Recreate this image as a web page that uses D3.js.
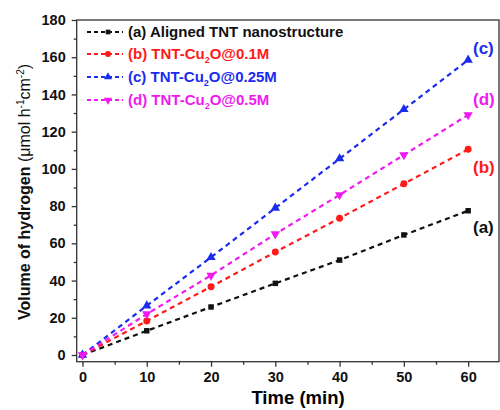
<!DOCTYPE html>
<html>
<head>
<meta charset="utf-8">
<script src="https://cdn.jsdelivr.net/npm/d3@7"></script>
<style>
  body { margin: 0; background: #fff; }
  svg { font-family: "Liberation Sans", Arial, sans-serif; }
</style>
</head>
<body>
<svg id="chart" width="500" height="410"></svg>
<script>
// data
const times = [0, 10, 20, 30, 40, 50, 60];
const seriesA = [0, 13, 25.8, 38.5, 51, 64.5, 77.5];
const seriesB = [0, 18.3, 36.7, 55.3, 73.5, 92, 110.5];
const seriesC = [0, 26.5, 52.5, 79, 105.5, 132, 158.5];
const seriesD = [0, 22, 42.8, 65, 86, 107.5, 129];
const seriesNames = ["(a) Aligned TNT nanostructure", "(b) TNT-Cu|2|O@0.1M", "(c) TNT-Cu|2|O@0.25M", "(d) TNT-Cu|2|O@0.5M"];
const seriesTags = ["(a)", "(b)", "(c)", "(d)"];
const xTicks = [0, 10, 20, 30, 40, 50, 60];
const yTicks = [0, 20, 40, 60, 80, 100, 120, 140, 160, 180];

const colors = ["#111111", "#ff1a1a", "#1a2cf0", "#f01af0"];
const symbols = [d3.symbolSquare, d3.symbolCircle, d3.symbolTriangle, d3.symbolTriangle];
const allSeries = [seriesA, seriesB, seriesC, seriesD];

const svg = d3.select("#chart");
const plotLeft = 76.7, plotRight = 499, plotTop = 20, plotBottom = 361.7;

const x = d3.scaleLinear().domain([-0.9, 64.8]).range([plotLeft, plotRight]);
const y = d3.scaleLinear().domain([-3.6, 180]).range([plotBottom, plotTop]);

// frame
svg.append("rect")
  .attr("x", plotLeft).attr("y", plotTop)
  .attr("width", plotRight - plotLeft).attr("height", plotBottom - plotTop)
  .attr("fill", "none").attr("stroke", "#333").attr("stroke-width", 1.3);

// x axis
const xAxis = svg.append("g")
  .attr("transform", `translate(0,${plotBottom})`)
  .call(d3.axisBottom(x).tickValues(xTicks).tickSize(5).tickPadding(5));
xAxis.append("g")
  .call(d3.axisBottom(x).tickValues([5, 15, 25, 35, 45, 55]).tickSize(3).tickFormat(""));
xAxis.selectAll(".domain").remove();
xAxis.selectAll("line").attr("stroke", "#333").attr("stroke-width", 1.3);
xAxis.selectAll("text")
  .attr("fill", "#111")
  .style("font-size", "14.5px")
  .style("font-weight", "bold");

// y axis
const yAxis = svg.append("g")
  .attr("transform", `translate(${plotLeft},0)`)
  .call(d3.axisLeft(y).tickValues(yTicks).tickSize(5).tickPadding(6));
yAxis.append("g")
  .call(d3.axisLeft(y).tickValues([10, 30, 50, 70, 90, 110, 130, 150, 170]).tickSize(3).tickFormat(""));
yAxis.selectAll(".domain").remove();
yAxis.selectAll("line").attr("stroke", "#333").attr("stroke-width", 1.3);
yAxis.selectAll("text")
  .attr("fill", "#111")
  .style("font-size", "14.5px")
  .style("font-weight", "bold");

// axis titles
svg.append("text")
  .attr("x", 298).attr("y", 404)
  .attr("text-anchor", "middle")
  .style("font-size", "18.5px").style("font-weight", "bold")
  .text("Time (min)");

const yTitle = svg.append("text")
  .attr("transform", "translate(30,192) rotate(-90)")
  .attr("text-anchor", "middle")
  .attr("fill", "#111")
  .style("font-size", "16px");
yTitle.append("tspan").style("font-weight", "bold").text("Volume of hydrogen ");
yTitle.append("tspan").text("(\u03bcmol h");
yTitle.append("tspan").attr("dy", -6).style("font-size", "10px").text("-1");
yTitle.append("tspan").attr("dy", 6).text("cm");
yTitle.append("tspan").attr("dy", -6).style("font-size", "10px").text("-2");
yTitle.append("tspan").attr("dy", 6).text(")");

// lines and markers
const line = d3.line().x((d, i) => x(times[i])).y(d => y(d));

allSeries.forEach((s, k) => {
  svg.append("path")
    .datum(s)
    .attr("d", line)
    .attr("fill", "none")
    .attr("stroke", colors[k])
    .attr("stroke-width", 2.2)
    .attr("stroke-dasharray", "5 4");

  svg.selectAll(".m" + k)
    .data(s)
    .enter().append("path")
    .attr("class", "m" + k)
    .attr("d", d3.symbol().type(symbols[k]).size(k === 0 ? 30 : 38))
    .attr("transform", (d, i) => `translate(${x(times[i])},${y(d)})` + (k === 3 ? " rotate(180)" : ""))
    .attr("fill", colors[k]);
});

// series tags at right
const tagY = [y(seriesA[6]) + 22, y(seriesB[6]) + 24, y(seriesC[6]) - 6, y(seriesD[6]) - 10];
seriesTags.forEach((t, k) => {
  svg.append("text")
    .attr("x", 473).attr("y", tagY[k])
    .attr("fill", colors[k])
    .style("font-size", "17px").style("font-weight", "bold")
    .text(t);
});

// legend
const legend = svg.append("g").attr("class", "legend");
const rowY = [32, 54, 77, 100];
seriesNames.forEach((name, k) => {
  const g = legend.append("g").attr("transform", `translate(0,${rowY[k]})`);
  g.append("line")
    .attr("x1", 87).attr("x2", 123)
    .attr("stroke", colors[k]).attr("stroke-width", 2)
    .attr("stroke-dasharray", "4 3");
  g.append("path")
    .attr("d", d3.symbol().type(symbols[k]).size(k === 0 ? 22 : 28))
    .attr("transform", `translate(108,0)` + (k === 3 ? " rotate(180)" : ""))
    .attr("fill", colors[k]);
  const txt = g.append("text")
    .attr("x", 128).attr("y", 5)
    .attr("fill", k === 0 ? "#111" : colors[k])
    .style("font-size", "15px").style("font-weight", "bold");
  const parts = name.split("|");
  txt.append("tspan").text(parts[0]);
  if (parts.length > 1) {
    txt.append("tspan").attr("dy", 4).style("font-size", "9px").text(parts[1]);
    txt.append("tspan").attr("dy", -4).text(parts[2]);
  }
});
</script>
</body>
</html>
